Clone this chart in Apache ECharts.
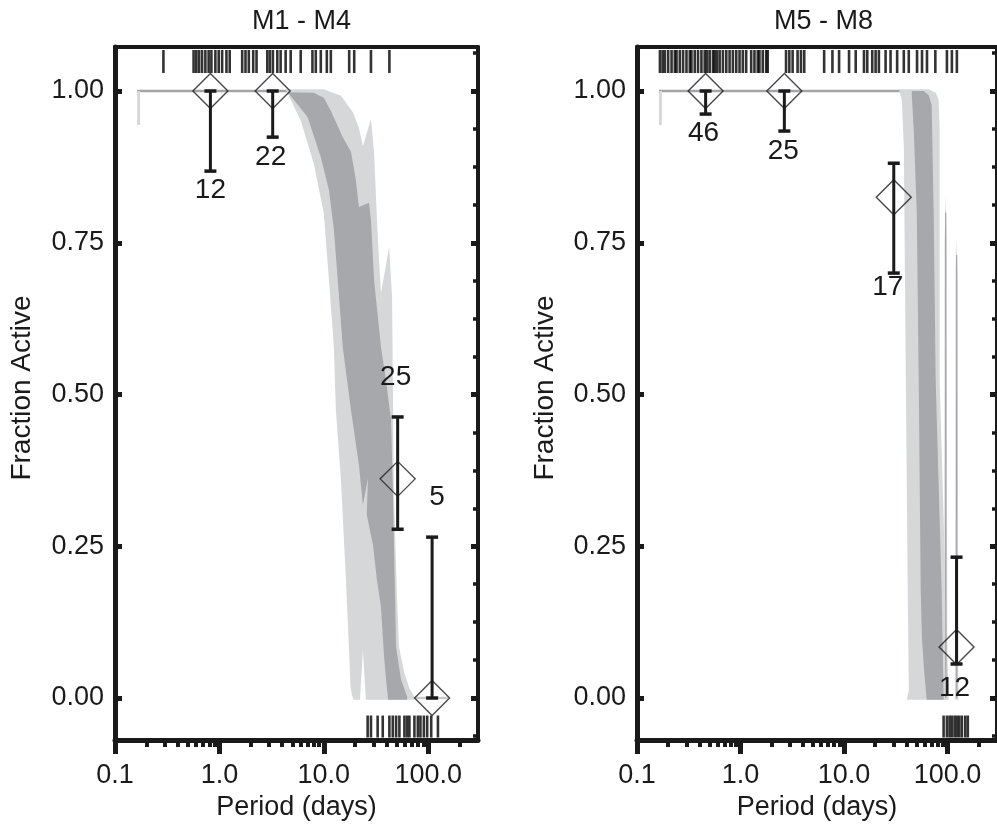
<!DOCTYPE html>
<html><head><meta charset="utf-8">
<script src="https://cdn.jsdelivr.net/npm/echarts@6/dist/echarts.min.js"></script>
<style>html,body{margin:0;padding:0;background:#fff}#c{width:997px;height:829px}</style>
</head><body><div id="c"></div>
<script>
// ================= DATA =================
const panelTitles = ['M1 - M4', 'M5 - M8'];
const yAxisTitle = 'Fraction Active';
const xAxisTitle = 'Period (days)';
const xTickPeriods = [0.1, 1, 10, 100];
const xMinorPeriods = [0.2,0.3,0.4,0.5,0.6,0.7,0.8,0.9,2,3,4,5,6,7,8,9,20,30,40,50,60,70,80,90,200];
const yTickValues = [0, 0.25, 0.5, 0.75, 1];
const yMinorValues = [-0.0625,0.0625,0.125,0.1875,0.3125,0.375,0.4375,0.5625,0.625,0.6875,0.8125,0.875,0.9375,1.0625];
const periodMin = 0.1, periodMax = 300;
const fracMin = -0.0692, fracMax = 1.0725;

// ---- M1 - M4 ----
const m14Period = [0.82, 3.24, 51, 109];
const m14Frac   = [1.0, 1.0, 0.361, 0.0];
const m14Lo     = [0.868, 0.924, 0.278, 0.0];
const m14Hi     = [1.0, 1.0, 0.463, 0.265];
const m14N      = [12, 22, 25, 5];
const m14RugActive = [0.291,0.566,0.601,0.638,0.682,0.734,0.789,0.838,0.915,0.985,1.062,1.168,1.256,
  1.653,1.778,1.913,2.109,2.269,2.875,3.045,3.254,3.587,3.859,4.311,4.817,6.008,7.785,8.38,9.36,10.69,11.68,17.51,19.56,28.3,42.5];
const m14RugInactive = [26.3,28.3,32.8,36.7,42.5,45.8,49.3,53.0,59.2,62.8,66.1,73.8,79.6,84.3,90.9,97.8,106.9,124.0];
const m14OuterBand = [[4.31,1.003],[10.0,1.003],[14.6,0.992],[19.0,0.965],[21.7,0.939],[23.7,0.909],[28.3,0.954],
  [30.3,0.899],[31.6,0.827],[33.0,0.755],[35.3,0.667],[42.2,0.743],[45.1,0.661],[46.1,0.475],[47.1,0.326],[50.4,0.161],
  [52.6,0.084],[58.8,0.043],[65.7,0.017],[73.4,0.002],[73.4,-0.003],[25.3,-0.003],[23.7,0.079],[22.2,-0.003],[19.3,-0.003],
  [18.6,0.005],[18.0,0.02],[17.4,0.084],[16.3,0.194],[14.6,0.359],[13.05,0.475],[12.5,0.578],[11.2,0.689],[10.0,0.799],
  [8.0,0.881],[6.0,0.952],[4.31,1.003]];
const m14InnerBand = [[4.51,0.998],[8.0,0.997],[10.0,0.989],[11.7,0.967],[15.2,0.924],[18.2,0.900],[20.3,0.853],[21.7,0.809],
  [27.1,0.816],[28.3,0.788],[30.3,0.689],[35.3,0.578],[39.4,0.524],[41.3,0.496],[44.1,0.458],[46.1,0.326],[48.2,0.161],
  [49.2,0.084],[55.0,0.030],[62.8,0.002],[62.8,-0.003],[41.3,-0.003],[39.5,0.03],[37.8,0.068],[35.3,0.150],[32.3,0.194],
  [29.6,0.252],[25.8,0.302],[26.5,0.362],[23.7,0.318],[21.7,0.384],[18.2,0.475],[15.2,0.578],[13.6,0.689],[12.5,0.771],
  [11.2,0.837],[9.36,0.891],[7.0,0.957],[4.51,0.998]];
const m14StartStrip = [[0.163,1.0],[0.174,1.0],[0.174,0.944],[0.163,0.944]];
const m14TopLine = [[0.163,1.0],[4.5,1.0]];
const m14BottomLine = [[70,0.0],[156,0.0]];

// ---- M5 - M8 ----
const m58Period = [0.46, 2.65, 30.2, 122];
const m58Frac   = [1.0, 1.0, 0.825, 0.084];
const m58Lo     = [0.962, 0.934, 0.700, 0.056];
const m58Hi     = [1.0, 1.0, 0.881, 0.232];
const m58N      = [46, 25, 17, 12];
const m58RugActive = [0.1665,0.1767,0.1858,0.2,0.2157,0.232,0.2409,0.259,0.2787,0.3006,0.3234,0.3357,0.3612,0.3886,
  0.4191,0.4507,0.4742,0.5033,0.5417,0.5623,0.5916,0.6284,0.6757,0.7286,0.7838,0.8433,0.9093,0.978,1.052,1.134,1.267,
  1.363,1.467,1.523,1.638,1.767,1.83,2.751,2.96,3.185,3.556,3.834,4.124,6.42,7.72,8.95,11.17,12.96,15.57,16.75,18.72,
  20.17,21.70,25.18,28.12,32.55,37.76,42.17,50.68,56.6,63.24,76.13,98.5,110.0,122.9];
const m58RugInactive = [91.5,98.5,104.5,110,116.8,122.9,129.6,137.3,148.0,156.7];
const m58OuterBand = [[33.8,1.003],[65.7,1.003],[76.7,0.997],[81.9,0.985],[83.8,0.936],[83.8,0.524],[95.7,0.178],
  [102.2,0.002],[102.2,-0.003],[40.3,-0.003],[42.2,0.013],[41.2,0.178],[39.5,0.524],[37.8,0.908],[36.1,0.985],[33.8,1.003]];
const m58InnerBand = [[45.1,1.0],[58.8,1.0],[65.7,0.993],[70.2,0.977],[73.4,0.799],[76.7,0.524],[87.6,0.178],[91.5,-0.003],
  [62.8,-0.003],[59,0.05],[56.5,0.1],[55,0.178],[52.6,0.524],[50.4,0.799],[47.1,0.936],[45.1,0.993]];
const m58Stripes = [
  [[92.5,-0.003],[93.5,0.75],[95.7,0.832],[98.0,0.75],[99.5,-0.003]],
  [[117.5,-0.003],[119.5,0.70],[122.1,0.755],[125.0,0.70],[127.0,-0.003]]
];
const m58StripeCores = [[[95.7,0.80],[96.2,0.0]], [[122.1,0.73],[122.6,0.0]]];
const m58StartStrip = [[0.163,1.0],[0.174,1.0],[0.174,0.944],[0.163,0.944]];
const m58TopLine = [[0.163,1.0],[35,1.0]];
const m58BottomLine = [];

// ================= STYLE / LAYOUT =================
const FONT = "'Liberation Sans', Arial, Helvetica, sans-serif";
const INK = '#1a1a1a';
const LIGHT = '#d6d7d9';
const DARK = '#a7a8ab';
const RUG_TOP_Y = 1.0486, RUG_BOTTOM_Y = -0.047;
const gridLefts = [115, 637];
const yTitlePos = [[22, 388], [545, 388]];
const labelOffsets = [
  [[0,99],[-2,66],[-2,-102],[5,-201]],
  [[-2,42],[-1,60],[-6,90],[-2,41]]
];

const panels = [
  {period:m14Period, frac:m14Frac, lo:m14Lo, hi:m14Hi, n:m14N, rugTop:m14RugActive, rugBottom:m14RugInactive,
   outer:m14OuterBand, inner:m14InnerBand, stripes:[], cores:[], start:m14StartStrip, topLine:m14TopLine, bottomLine:m14BottomLine},
  {period:m58Period, frac:m58Frac, lo:m58Lo, hi:m58Hi, n:m58N, rugTop:m58RugActive, rugBottom:m58RugInactive,
   outer:m58OuterBand, inner:m58InnerBand, stripes:m58Stripes, cores:m58StripeCores, start:m58StartStrip, topLine:m58TopLine, bottomLine:m58BottomLine}
];

const L = Math.log10;
const xMin = L(periodMin), xMax = L(periodMax);

const grids = [], xAxes = [], yAxes = [], titles = [], series = [], graphics = [];

panels.forEach((pn, i) => {
  grids.push({left: gridLefts[i], top: 47, width: 363, height: 693});
  titles.push({text: panelTitles[i], left: gridLefts[i] + 181.5, top: 3, textAlign: 'center',
    textStyle: {fontSize: 27, fontWeight: 'normal', color: INK, fontFamily: FONT}});
  graphics.push({type:'text', x: yTitlePos[i][0], y: yTitlePos[i][1], rotation: Math.PI / 2,
    style:{text: yAxisTitle, fontSize: 28, fontFamily: FONT, fill: INK, align:'center', verticalAlign:'middle'}});
  const xb = xAxes.length, yb = yAxes.length;
  xAxes.push({gridIndex:i, type:'value', min:xMin, max:xMax, position:'bottom',
    axisLine:{show:true, onZero:false, lineStyle:{color:INK, width:5}},
    axisTick:{show:true, inside:false, length:14, customValues: xTickPeriods.map(L), lineStyle:{color:INK, width:5}},
    axisLabel:{show:true, customValues: xTickPeriods.map(L), margin:22, fontSize:27, color:INK, fontFamily:FONT,
      formatter: v => Math.pow(10, v).toFixed(1)},
    splitLine:{show:false},
    name: xAxisTitle, nameLocation:'middle', nameGap:50,
    nameTextStyle:{fontSize:27, color:INK, fontFamily:FONT}});
  xAxes.push({gridIndex:i, type:'value', min:xMin, max:xMax, position:'bottom',
    axisLine:{show:false, onZero:false},
    axisTick:{show:true, inside:false, length:7, customValues: xMinorPeriods.map(L), lineStyle:{color:INK, width:4}},
    axisLabel:{show:false}, splitLine:{show:false}});
  xAxes.push({gridIndex:i, type:'value', min:xMin, max:xMax, position:'top',
    axisLine:{show:true, onZero:false, lineStyle:{color:INK, width:4}},
    axisTick:{show:false}, axisLabel:{show:false}, splitLine:{show:false}});

  yAxes.push({gridIndex:i, type:'value', min:fracMin, max:fracMax, position:'left',
    axisLine:{show:true, onZero:false, lineStyle:{color:INK, width:5}},
    axisTick:{show:true, inside:true, length:7, customValues: yTickValues, lineStyle:{color:INK, width:5}},
    axisLabel:{show:true, customValues: yTickValues, margin:11, fontSize:27, color:INK, fontFamily:FONT,
      formatter: v => v.toFixed(2)},
    splitLine:{show:false}});
  yAxes.push({gridIndex:i, type:'value', min:fracMin, max:fracMax, position:'right',
    axisLine:{show:true, onZero:false, lineStyle:{color:INK, width:4}},
    axisTick:{show:true, inside:true, length:7, customValues: yTickValues, lineStyle:{color:INK, width:5}},
    axisLabel:{show:false}, splitLine:{show:false}});
  yAxes.push({gridIndex:i, type:'value', min:fracMin, max:fracMax, position:'right',
    axisLine:{show:false, onZero:false},
    axisTick:{show:true, inside:true, length:5, customValues: yMinorValues, lineStyle:{color:INK, width:3.5}},
    axisLabel:{show:false}, splitLine:{show:false}});

  const ax = {xAxisIndex: xb, yAxisIndex: yb};
  const poly = (pts, color, z) => Object.assign({type:'custom', silent:true, z, clip:true, data:[[xMin, 0]],
    renderItem: (params, api) => ({type:'polygon',
      shape:{points: pts.map(p => api.coord([L(p[0]), p[1]]))}, style:{fill: color}})}, ax);
  const line = (pts, color, w, z) => Object.assign({type:'line', silent:true, z, showSymbol:false, symbol:'none',
    data: pts.map(p => [L(p[0]), p[1]]), lineStyle:{color, width:w}}, ax);

  if (pn.topLine.length) series.push(line(pn.topLine, '#a3a4a7', 2.5, 1));
  if (pn.bottomLine.length) series.push(line(pn.bottomLine, '#c9cacc', 2.5, 1));
  series.push(poly(pn.start, LIGHT, 2));
  series.push(poly(pn.outer, LIGHT, 2));
  pn.stripes.forEach(s => series.push(poly(s, LIGHT, 2)));
  series.push(poly(pn.inner, DARK, 3));
  pn.cores.forEach(c => series.push(line(c, DARK, 1.3, 3)));

  // rugs
  series.push(Object.assign({type:'scatter', silent:true, z:4, symbol:'rect', symbolSize:[2.6, 23],
    itemStyle:{color:'#000'}, data: pn.rugTop.map(p => [L(p), RUG_TOP_Y])}, ax));
  series.push(Object.assign({type:'scatter', silent:true, z:4, symbol:'rect', symbolSize:[2.6, 22],
    itemStyle:{color:'#000'}, data: pn.rugBottom.map(p => [L(p), RUG_BOTTOM_Y])}, ax));

  // error bars
  series.push(Object.assign({type:'custom', silent:true, z:5, clip:false,
    data: pn.period.map((p, k) => [L(p), pn.lo[k], pn.hi[k]]),
    encode:{x:0, y:[1,2]},
    renderItem: (params, api) => {
      const a = api.coord([api.value(0), api.value(1)]);
      const b = api.coord([api.value(0), api.value(2)]);
      const st = {stroke: INK, lineWidth: 3};
      return {type:'group', children:[
        {type:'line', shape:{x1:a[0], y1:a[1], x2:b[0], y2:b[1]}, style:st},
        {type:'line', shape:{x1:a[0]-6, y1:a[1], x2:a[0]+6, y2:a[1]}, style:{stroke:INK, lineWidth:3.5}},
        {type:'line', shape:{x1:b[0]-6, y1:b[1], x2:b[0]+6, y2:b[1]}, style:{stroke:INK, lineWidth:3.5}}
      ]};
    }}, ax));

  // diamonds
  series.push(Object.assign({type:'scatter', silent:true, z:6, symbol:'diamond', symbolSize:35,
    itemStyle:{color:'rgba(0,0,0,0)', borderColor:INK, borderWidth:1.4},
    data: pn.period.map((p, k) => [L(p), pn.frac[k]])}, ax));

  // counts
  const offs = labelOffsets[i];
  series.push(Object.assign({type:'custom', silent:true, z:7, clip:false,
    data: pn.period.map((p, k) => [L(p), pn.frac[k], pn.n[k], k]),
    renderItem: (params, api) => {
      const c = api.coord([api.value(0), api.value(1)]);
      const o = offs[api.value(3)];
      return {type:'text', x: c[0] + o[0], y: c[1] + o[1],
        style:{text: String(api.value(2)), fill: INK, fontSize: 28, fontFamily: FONT, align:'center', verticalAlign:'middle'}};
    }}, ax));
});

const chart = echarts.init(document.getElementById('c'), null, {renderer:'canvas'});
chart.setOption({animation:false, backgroundColor:'#fff', title:titles, grid:grids, xAxis:xAxes, yAxis:yAxes, series, graphic: graphics});
</script></body></html>
